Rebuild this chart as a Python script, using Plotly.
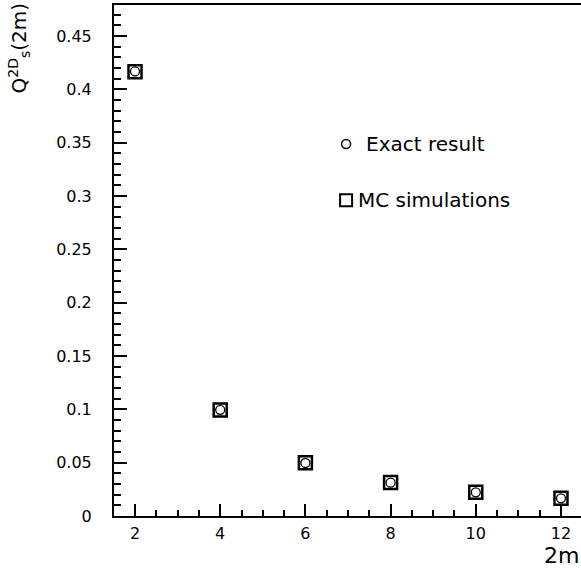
import plotly.graph_objects as go

# Data
two_m = [2, 4, 6, 8, 10, 12]
exact_result = [0.4167, 0.0995, 0.0497, 0.0312, 0.0222, 0.0166]
mc_simulations = [0.4165, 0.0994, 0.0498, 0.0313, 0.0222, 0.0167]
y_tick_vals = [0, 0.05, 0.1, 0.15, 0.2, 0.25, 0.3, 0.35, 0.4, 0.45]
y_tick_text = ["0", "0.05", "0.1", "0.15", "0.2", "0.25", "0.3", "0.35", "0.4", "0.45"]
x_tick_vals = [2, 4, 6, 8, 10, 12]
x_tick_text = ["2", "4", "6", "8", "10", "12"]

FONT = "DejaVu Sans, Verdana, sans-serif"

fig = go.Figure()
fig.add_trace(go.Scatter(
    x=two_m, y=mc_simulations, mode="markers", name="MC simulations",
    marker=dict(symbol="square-open", size=13, color="black", line=dict(width=2.5, color="black")),
))
fig.add_trace(go.Scatter(
    x=two_m, y=exact_result, mode="markers", name="Exact result",
    marker=dict(symbol="circle-open", size=9, color="black", line=dict(width=1.3, color="black")),
))

axis_common = dict(
    showline=True, linecolor="black", linewidth=2,
    ticks="inside", tickcolor="black", tickwidth=1.5,
    showgrid=False, zeroline=False,
    tickfont=dict(family=FONT, size=16, color="black"),
)

fig.update_xaxes(
    **axis_common,
    range=[1.507, 12.47],
    tickvals=x_tick_vals, ticktext=x_tick_text,
    ticklen=12, mirror=True,
    minor=dict(ticks="inside", dtick=0.5, tick0=0, ticklen=6, tickwidth=1.5, tickcolor="black"),
    ticklabelstandoff=2,
)
fig.update_yaxes(
    **axis_common,
    range=[0, 0.479],
    tickvals=y_tick_vals, ticktext=y_tick_text,
    ticklen=13,
    minor=dict(ticks="inside", dtick=0.01, tick0=0, ticklen=7, tickwidth=1.5, tickcolor="black"),
    ticklabelstandoff=17,
)

# Legend-like annotations with drawn symbols
legend_items = [("Exact result", "circle", 0.728, 4.5, 1.5, 18), ("MC simulations", "rect", 0.618, 6, 2, 10)]
shapes = []
annotations = []
for label, kind, ypos, half, lw, shift in legend_items:
    shapes.append(dict(
        type=kind, xref="paper", yref="paper", xsizemode="pixel", ysizemode="pixel",
        xanchor=0.497, yanchor=ypos, x0=-half, x1=half, y0=-half, y1=half,
        line=dict(color="black", width=lw), fillcolor="rgba(0,0,0,0)",
    ))
    annotations.append(dict(
        text=label, xref="paper", yref="paper", x=0.497, y=ypos, xshift=shift,
        xanchor="left", yanchor="middle", showarrow=False,
        font=dict(family=FONT, size=20, color="black"),
    ))

annotations.append(dict(
    text="Q<sup>2D</sup><sub>s</sub>(2m)", xref="paper", yref="paper", x=0, y=1,
    xshift=-95, yshift=4, xanchor="center", yanchor="top", textangle=-90, showarrow=False,
    font=dict(family=FONT, size=20, color="black"),
))
annotations.append(dict(
    text="2m", xref="paper", yref="paper", x=1, y=0, yshift=-25,
    xanchor="right", yanchor="top", showarrow=False,
    font=dict(family=FONT, size=22, color="black"),
))

fig.update_layout(
    width=581, height=570,
    margin=dict(l=114, r=0, t=5, b=54),
    paper_bgcolor="white", plot_bgcolor="white",
    showlegend=False,
    shapes=shapes, annotations=annotations,
)

fig.write_html(
    "out.html",
    config={"displayModeBar": False},
    post_script="document.body.style.margin='0';document.body.style.overflow='hidden';",
)
